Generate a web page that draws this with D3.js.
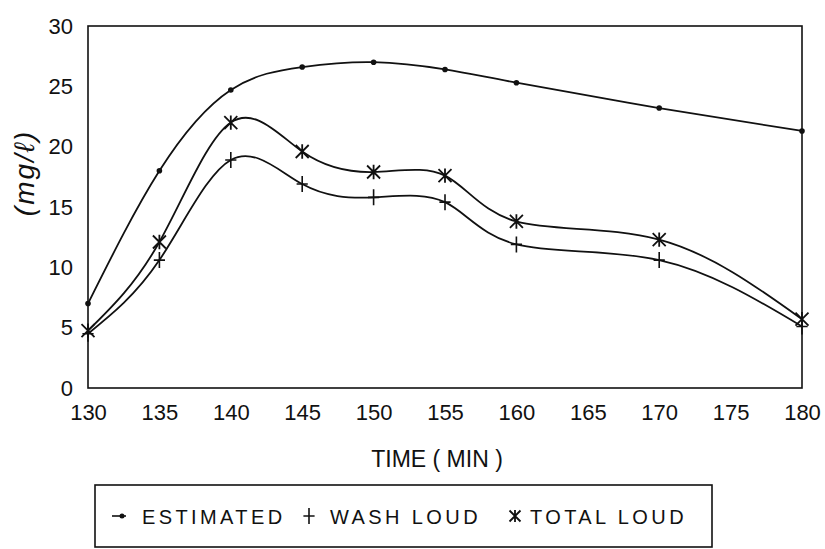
<!DOCTYPE html>
<html>
<head>
<meta charset="utf-8">
<script src="https://cdn.jsdelivr.net/npm/d3@7"></script>
<style>
  body { margin: 0; background: #fff; }
  text { font-family: "Liberation Sans", Arial, sans-serif; fill: #111; }
</style>
</head>
<body>
<svg id="chart" width="825" height="549"></svg>
<script>
// data
const times = [130, 135, 140, 145, 150, 155, 160, 170, 180];
const estimated = [7.0, 18.0, 24.7, 26.6, 27.0, 26.4, 25.3, 23.2, 21.3];
const washLoud = [4.5, 10.6, 18.9, 16.9, 15.8, 15.4, 11.9, 10.6, 5.1];
const totalLoud = [4.75, 12.1, 22.0, 19.6, 17.9, 17.6, 13.8, 12.3, 5.7];
const xTicks = [130, 135, 140, 145, 150, 155, 160, 165, 170, 175, 180];
const yTicks = [0, 5, 10, 15, 20, 25, 30];
const seriesNames = ["ESTIMATED", "WASH LOUD", "TOTAL LOUD"];

const svg = d3.select("#chart");
const margin = { top: 26, right: 23, bottom: 161, left: 88 };
const width = 825, height = 549;

const x = d3.scaleLinear().domain([130, 180]).range([margin.left, width - margin.right]);
const y = d3.scaleLinear().domain([0, 30]).range([height - margin.bottom, margin.top]);

// frame
svg.append("rect")
  .attr("x", margin.left)
  .attr("y", margin.top)
  .attr("width", x(180) - x(130))
  .attr("height", y(0) - y(30))
  .attr("fill", "none")
  .attr("stroke", "#111")
  .attr("stroke-width", 1.6);

// axes (labels only, no tick marks)
const xAxis = svg.append("g")
  .attr("transform", `translate(0, ${y(0)})`)
  .call(d3.axisBottom(x).tickValues(xTicks).tickSize(0).tickPadding(12));
const yAxis = svg.append("g")
  .attr("transform", `translate(${margin.left}, 0)`)
  .call(d3.axisLeft(y).tickValues(yTicks).tickSize(0).tickPadding(15));
[xAxis, yAxis].forEach(function (g) {
  g.select(".domain").remove();
  g.selectAll("text")
    .style("font-size", "22px")
    .attr("fill", "#111");
});
xAxis.selectAll("text").attr("dy", "0.9em");

// axis titles
svg.append("text")
  .attr("x", 437)
  .attr("y", 467)
  .attr("text-anchor", "middle")
  .style("font-size", "23px")
  .text("TIME ( MIN )");

svg.append("text")
  .attr("transform", "translate(34, 173) rotate(-90)")
  .attr("text-anchor", "middle")
  .style("font-size", "28px")
  .style("font-style", "italic")
  .style("letter-spacing", "2px")
  .text("(mg/ℓ)");

// lines
const line = d3.line()
  .x(function (d) { return x(d[0]); })
  .y(function (d) { return y(d[1]); })
  .curve(d3.curveNatural);

const series = [estimated, washLoud, totalLoud].map(function (vals) {
  return times.map(function (t, i) { return [t, vals[i]]; });
});

const plot = svg.append("g");
series.forEach(function (pts) {
  plot.append("path")
    .datum(pts)
    .attr("d", line)
    .attr("fill", "none")
    .attr("stroke", "#111")
    .attr("stroke-width", 1.8);
});

// markers
function plus(g, s) {
  g.append("path")
    .attr("d", `M${-s * 0.7},0H${s * 0.7}M0,${-s}V${s}`)
    .attr("stroke", "#111").attr("stroke-width", 1.6).attr("fill", "none");
}
function star(g, s) {
  g.append("path")
    .attr("d", `M${-s},${-s}L${s},${s}M${s},${-s}L${-s},${s}M0,${-s * 1.1}V${s * 1.1}`)
    .attr("stroke", "#111").attr("stroke-width", 1.8).attr("fill", "none");
}

plot.selectAll(".dot")
  .data(series[0])
  .enter().append("circle")
  .attr("cx", function (d) { return x(d[0]); })
  .attr("cy", function (d) { return y(d[1]); })
  .attr("r", 2.8)
  .attr("fill", "#111");

series[1].forEach(function (d) {
  plus(plot.append("g").attr("transform", `translate(${x(d[0])}, ${y(d[1])})`), 8);
});
series[2].forEach(function (d) {
  star(plot.append("g").attr("transform", `translate(${x(d[0])}, ${y(d[1])})`), 6.5);
});

// legend
const legend = svg.append("g");
legend.append("rect")
  .attr("x", 95).attr("y", 485)
  .attr("width", 617).attr("height", 62)
  .attr("fill", "none")
  .attr("stroke", "#111")
  .attr("stroke-width", 1.6);

const legendX = [112, 300, 507];
const legendTextX = [142, 330, 530];
const legendY = 516;

const lg0 = legend.append("g").attr("transform", `translate(${legendX[0]}, ${legendY})`);
lg0.append("line").attr("x1", 0).attr("x2", 14).attr("stroke", "#111").attr("stroke-width", 1.6);
lg0.append("circle").attr("cx", 10).attr("r", 2.5).attr("fill", "#111");
plus(legend.append("g").attr("transform", `translate(${legendX[1] + 9}, ${legendY})`), 8);
star(legend.append("g").attr("transform", `translate(${legendX[2] + 8}, ${legendY})`), 5.5);

seriesNames.forEach(function (name, i) {
  legend.append("text")
    .attr("x", legendTextX[i])
    .attr("y", legendY + 8)
    .style("font-size", "20px")
    .style("letter-spacing", "3.4px")
    .text(name);
});
</script>
</body>
</html>
